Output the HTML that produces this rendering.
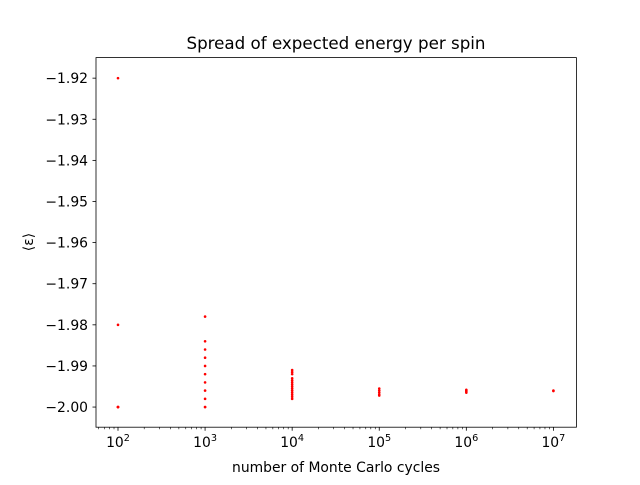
<!DOCTYPE html>
<html><head><meta charset="utf-8"><style>
body{margin:0;background:#fff}
svg text{font-family:"DejaVu Sans","Liberation Sans",sans-serif;fill:#000}
</style></head><body>
<svg id="c" width="640" height="480">
<rect width="640" height="480" fill="#fff"/>
<g id="marks"></g>
<rect x="96" y="57.6" width="480.4" height="369.6" fill="none" stroke="#000" stroke-width="0.8"/>
<g id="axes"></g>
<text x="336" y="49" font-size="16.7" text-anchor="middle">Spread of expected energy per spin</text>
<text x="336" y="472" font-size="13.9" text-anchor="middle">number of Monte Carlo cycles</text>
<text x="33" y="242" font-size="13.9" text-anchor="middle" transform="rotate(-90 33 242)">⟨ε⟩</text>
</svg>
<script>
const cycles=[100,1000,10000,100000,1000000,10000000];
const energies=[
[-1.92,-1.98,-2.0,-2.0,-2.0,-2.0],
[-1.978,-1.984,-1.986,-1.988,-1.99,-1.992,-1.994,-1.996,-1.998,-2.0,-2.0],
[-1.991,-1.9915,-1.992,-1.993,-1.9935,-1.994,-1.9945,-1.995,-1.9955,-1.996,-1.9965,-1.997,-1.9975,-1.998],
[-1.9955,-1.996,-1.9965,-1.997,-1.9972],
[-1.9958,-1.996,-1.9962,-1.9965],
[-1.996,-1.9961]
];
const yTicks=[-1.92,-1.93,-1.94,-1.95,-1.96,-1.97,-1.98,-1.99,-2.00];
const xExps=[2,3,4,5,6,7];
const X0=96,X1=576.4,Y0=57.6,Y1=427.2;
const lxMin=1.7474,lxMax=7.264,yMin=-2.0049,yMax=-1.9150;
const sx=v=>X0+(Math.log10(v)-lxMin)/(lxMax-lxMin)*(X1-X0);
const sy=v=>Y1-(v-yMin)/(yMax-yMin)*(Y1-Y0);
const NS="http://www.w3.org/2000/svg";
const marks=document.getElementById('marks'),axes=document.getElementById('axes');
cycles.forEach((c,i)=>{energies[i].forEach(e=>{
 const r=document.createElementNS(NS,'circle');
 
 
 r.setAttribute('cx',sx(c));r.setAttribute('cy',sy(e));r.setAttribute('r',1.3);r.setAttribute('fill','#f00');
 marks.appendChild(r);});});
yTicks.forEach(t=>{
 const y=sy(t);
 const l=document.createElementNS(NS,'line');
 
 
 l.setAttribute('x1',X0-3.5);l.setAttribute('x2',X0);l.setAttribute('y1',y);l.setAttribute('y2',y);l.setAttribute('stroke','#000');l.setAttribute('stroke-width',0.8);
 axes.appendChild(l);
 const tx=document.createElementNS(NS,'text');
 
 
 tx.setAttribute('x',X0-8);tx.setAttribute('y',y+5);tx.setAttribute('font-size','13.9');tx.setAttribute('text-anchor','end');
 tx.textContent='\u2212'+Math.abs(t).toFixed(2);
 axes.appendChild(tx);});
function minor(v){
 const mx=sx(v);const ml=document.createElementNS(NS,'line');
 
 
 ml.setAttribute('x1',mx);ml.setAttribute('x2',mx);ml.setAttribute('y1',Y1);ml.setAttribute('y2',Y1+2);ml.setAttribute('stroke','#000');ml.setAttribute('stroke-width',0.6);
 axes.appendChild(ml);}
xExps.forEach(e=>{
 const x=sx(Math.pow(10,e));
 const l=document.createElementNS(NS,'line');
 
 
 l.setAttribute('x1',x);l.setAttribute('x2',x);l.setAttribute('y1',Y1);l.setAttribute('y2',Y1+3.5);l.setAttribute('stroke','#000');l.setAttribute('stroke-width',0.8);
 axes.appendChild(l);
 for(let m=2;m<10;m++){const v=m*Math.pow(10,e);if(Math.log10(v)>lxMax)break;minor(v);}
 const tx=document.createElementNS(NS,'text');
 
 
 tx.setAttribute('x',x);tx.setAttribute('y',Y1+20);tx.setAttribute('font-size','13.9');tx.setAttribute('text-anchor','middle');
 tx.innerHTML='10<tspan font-size="9.7" dy="-6">'+e+'</tspan>';
 axes.appendChild(tx);});
for(let m=2;m<10;m++){const v=m*10;if(Math.log10(v)<lxMin)continue;minor(v);}
</script>
</body></html>
